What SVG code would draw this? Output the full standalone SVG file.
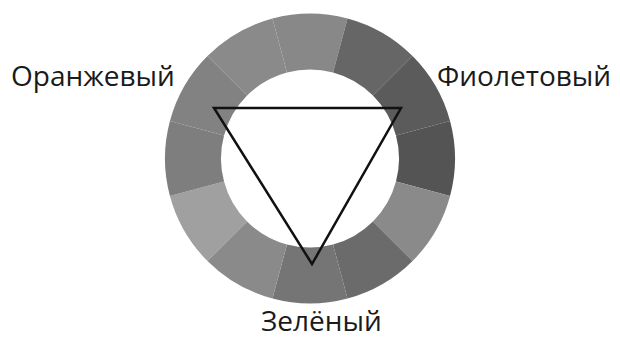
<svg xmlns="http://www.w3.org/2000/svg" width="620" height="340" viewBox="0 0 620 340">
<style>
.lbl{font-family:"Open Sans","Noto Sans","DejaVu Sans",sans-serif;font-size:28px;fill:#1a1a1a}
.tri{fill:none;stroke:#111;stroke-width:2.5;stroke-linejoin:miter}
</style>
<rect width="620" height="340" fill="#fff"/>
<g id="wheel">
<path d="M272.47 18.44 A145 145 0 0 1 347.53 18.44 L333.03 72.53 A89 89 0 0 0 286.97 72.53 Z" fill="#888"/>
<path d="M347.53 18.44 A145 145 0 0 1 412.53 55.97 L372.93 95.57 A89 89 0 0 0 333.03 72.53 Z" fill="#666"/>
<path d="M412.53 55.97 A145 145 0 0 1 450.06 120.97 L395.97 135.47 A89 89 0 0 0 372.93 95.57 Z" fill="#5b5b5b"/>
<path d="M450.06 120.97 A145 145 0 0 1 450.06 196.03 L395.97 181.53 A89 89 0 0 0 395.97 135.47 Z" fill="#545454"/>
<path d="M450.06 196.03 A145 145 0 0 1 412.53 261.03 L372.93 221.43 A89 89 0 0 0 395.97 181.53 Z" fill="#8a8a8a"/>
<path d="M412.53 261.03 A145 145 0 0 1 347.53 298.56 L333.03 244.47 A89 89 0 0 0 372.93 221.43 Z" fill="#6b6b6b"/>
<path d="M347.53 298.56 A145 145 0 0 1 272.47 298.56 L286.97 244.47 A89 89 0 0 0 333.03 244.47 Z" fill="#757575"/>
<path d="M272.47 298.56 A145 145 0 0 1 207.47 261.03 L247.07 221.43 A89 89 0 0 0 286.97 244.47 Z" fill="#8a8a8a"/>
<path d="M207.47 261.03 A145 145 0 0 1 169.94 196.03 L224.03 181.53 A89 89 0 0 0 247.07 221.43 Z" fill="#a0a0a0"/>
<path d="M169.94 196.03 A145 145 0 0 1 169.94 120.97 L224.03 135.47 A89 89 0 0 0 224.03 181.53 Z" fill="#7e7e7e"/>
<path d="M169.94 120.97 A145 145 0 0 1 207.47 55.97 L247.07 95.57 A89 89 0 0 0 224.03 135.47 Z" fill="#828282"/>
<path d="M207.47 55.97 A145 145 0 0 1 272.47 18.44 L286.97 72.53 A89 89 0 0 0 247.07 95.57 Z" fill="#8a8a8a"/>
</g>
<g id="triangle">
<polygon class="tri" points="214,108 401,108 312,264"/>
</g>
<g id="label-orange"><text class="lbl" x="11" y="86">Оранжевый</text></g>
<g id="label-violet"><text class="lbl" x="437" y="86">Фиолетовый</text></g>
<g id="label-green"><text class="lbl" x="261" y="331">Зелёный</text></g>
</svg>
